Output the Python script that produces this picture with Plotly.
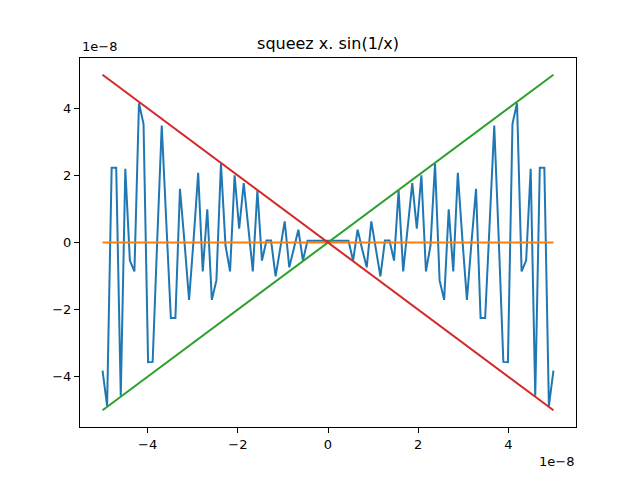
import plotly.graph_objects as go

# x positions (units of 1e-8), 100 samples from -5 to 5
x_vals = [
    -5.000, -4.899, -4.798, -4.697, -4.596, -4.495, -4.394, -4.293, -4.192, -4.091,
    -3.990, -3.889, -3.788, -3.687, -3.586, -3.485, -3.384, -3.283, -3.182, -3.081,
    -2.980, -2.879, -2.778, -2.677, -2.576, -2.475, -2.374, -2.273, -2.172, -2.071,
    -1.970, -1.869, -1.768, -1.667, -1.566, -1.465, -1.364, -1.263, -1.162, -1.061,
    -0.960, -0.859, -0.758, -0.657, -0.556, -0.455, -0.354, -0.253, -0.152, -0.051,
    0.051, 0.152, 0.253, 0.354, 0.455, 0.556, 0.657, 0.758, 0.859, 0.960,
    1.061, 1.162, 1.263, 1.364, 1.465, 1.566, 1.667, 1.768, 1.869, 1.970,
    2.071, 2.172, 2.273, 2.374, 2.475, 2.576, 2.677, 2.778, 2.879, 2.980,
    3.081, 3.182, 3.283, 3.384, 3.485, 3.586, 3.687, 3.788, 3.889, 3.990,
    4.091, 4.192, 4.293, 4.394, 4.495, 4.596, 4.697, 4.798, 4.899, 5.000,
]

# x*sin(1/x) values (units of 1e-8)
y_squeez = [
    -3.82, -4.87, 2.23, 2.23, -4.57, 2.20, -0.54, -0.86, 4.15, 3.54,
    -3.57, -3.56, 0.05, 3.49, 0.60, -2.25, -2.25, 1.60, 0.00, -1.71,
    0.10, 2.08, -0.86, 0.99, -1.71, -1.13, 2.35, -0.09, -0.86, 2.00,
    0.41, 1.77, 0.46, -0.86, 1.55, -0.54, 0.06, 0.06, -1.01, -0.25,
    0.63, -0.74, -0.20, 0.38, -0.54, 0.05, 0.05, 0.05, 0.05, 0.05,
    0.05, 0.05, 0.05, 0.05, 0.05, -0.54, 0.38, -0.20, -0.74, 0.63,
    -0.25, -1.01, 0.06, 0.06, -0.54, 1.55, -0.86, 0.46, 1.77, 0.41,
    2.00, -0.86, -0.09, 2.35, -1.13, -1.71, 0.99, -0.86, 2.08, 0.10,
    -1.71, 0.00, 1.60, -2.25, -2.25, 0.60, 3.49, 0.05, -3.56, -3.57,
    3.54, 4.15, -0.86, -0.54, 2.20, -4.57, 2.23, 2.23, -4.87, -3.82,
]

# straight guide lines
line_x = [-5.0, 5.0]
zero_y = [0.0, 0.0]
pos_y = [-5.0, 5.0]
neg_y = [5.0, -5.0]

tick_vals = [-4, -2, 0, 2, 4]
tick_text = ["\u22124", "\u22122", "0", "2", "4"]

font_family = "DejaVu Sans"

fig = go.Figure()
fig.add_trace(go.Scatter(x=x_vals, y=y_squeez, mode="lines",
                         line=dict(color="#1f77b4", width=2)))
fig.add_trace(go.Scatter(x=line_x, y=zero_y, mode="lines",
                         line=dict(color="#ff7f0e", width=2)))
fig.add_trace(go.Scatter(x=line_x, y=pos_y, mode="lines",
                         line=dict(color="#2ca02c", width=2)))
fig.add_trace(go.Scatter(x=line_x, y=neg_y, mode="lines",
                         line=dict(color="#d62728", width=2)))

axis_common = dict(
    showgrid=False, zeroline=False, showline=True, linecolor="black",
    linewidth=1, mirror=True, ticks="outside", ticklen=5, tickwidth=1,
    tickcolor="black", tickfont=dict(family=font_family, size=13, color="black"),
    tickvals=tick_vals, ticktext=tick_text, automargin=False,
)

# the page body has an 8px margin, so the plot area is offset accordingly
fig.update_layout(
    width=640, height=480,
    margin=dict(l=72, r=72, t=50, b=61),
    paper_bgcolor="white", plot_bgcolor="white",
    showlegend=False,
    title=dict(text="squeez x. sin(1/x)", x=0.5, xanchor="center",
               xref="paper", y=1 - 35 / 480, yanchor="middle",
               font=dict(family=font_family, size=16, color="black")),
    xaxis=dict(range=[-5.5, 5.5], **axis_common),
    yaxis=dict(range=[-5.5, 5.5], **axis_common),
    annotations=[
        dict(text="1e\u22128", xref="paper", yref="paper", x=0, y=1,
             xanchor="left", yanchor="bottom", yshift=2, showarrow=False,
             font=dict(family=font_family, size=13, color="black")),
        dict(text="1e\u22128", xref="paper", yref="paper", x=1, y=0,
             xanchor="right", yanchor="top", yshift=-25, showarrow=False,
             font=dict(family=font_family, size=13, color="black")),
    ],
)

fig.write_html("out.html")
